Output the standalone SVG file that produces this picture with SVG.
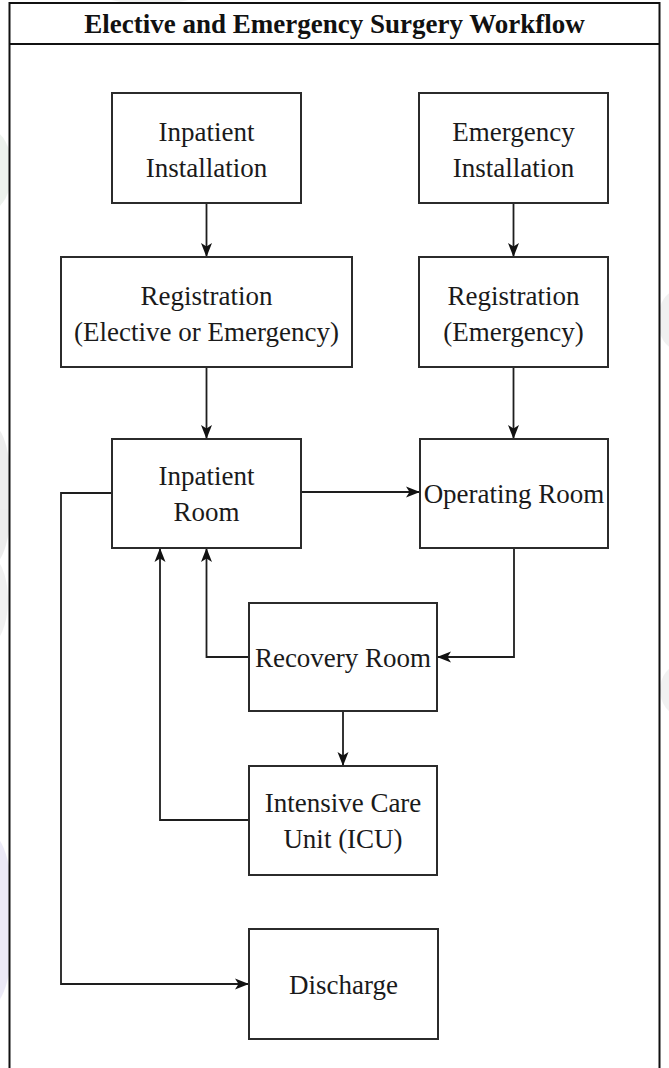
<svg xmlns="http://www.w3.org/2000/svg" width="669" height="1068" viewBox="0 0 669 1068">
  <style>
    .node rect { fill: #ffffff; stroke: #2b2b2b; stroke-width: 2; }
    .label { font-family: "Liberation Serif", "Times New Roman", serif; font-size: 27px; fill: #1a1a1a; text-anchor: middle; }
    .title { font-family: "Liberation Serif", "Times New Roman", serif; font-size: 27px; font-weight: bold; fill: #111111; text-anchor: middle; }
    .conn path { fill: none; stroke: #1e1e1e; stroke-width: 1.8; }
    .frame { fill: #ffffff; stroke: #111111; stroke-width: 2; }
    .wm { opacity: 0.55; }
  </style>
  <defs>
    <marker id="arrow" viewBox="0 0 14 14" refX="13" refY="7" markerWidth="14" markerHeight="14" markerUnits="userSpaceOnUse" orient="auto">
      <path d="M0,1.5 L14,7 L0,12.5 L3.5,7 z" fill="#111111"/>
    </marker>
  </defs>
  <rect x="0" y="0" width="669" height="1068" fill="#ffffff"/>
  <g id="watermark" class="wm">
    <ellipse cx="150" cy="-20" rx="70" ry="24" fill="#e4e6e4"/>
    <ellipse cx="-10" cy="170" rx="22" ry="40" fill="#dfe8df"/>
    <ellipse cx="-8" cy="495" rx="20" ry="70" fill="#dedede"/>
    <ellipse cx="-12" cy="600" rx="20" ry="45" fill="#e6e6e6"/>
    <ellipse cx="-8" cy="920" rx="22" ry="85" fill="#dcd8f0"/>
    <ellipse cx="678" cy="320" rx="20" ry="30" fill="#e4e4e4"/>
    <ellipse cx="680" cy="690" rx="20" ry="25" fill="#e6e6e6"/>
  </g>
  <g id="frame">
    <rect class="frame" x="9.5" y="3" width="650" height="1075"/>
    <line x1="9.5" y1="44" x2="659.5" y2="44" stroke="#111111" stroke-width="2"/>
    <text class="title" x="334.5" y="33">Elective and Emergency Surgery Workflow</text>
  </g>
  <g id="connectors" class="conn">
    <path d="M206.5,203 L206.5,256" marker-end="url(#arrow)"/>
    <path d="M513.5,203 L513.5,256" marker-end="url(#arrow)"/>
    <path d="M206.5,367 L206.5,438" marker-end="url(#arrow)"/>
    <path d="M513.5,367 L513.5,438" marker-end="url(#arrow)"/>
    <path d="M301,492 L419,492" marker-end="url(#arrow)"/>
    <path d="M514,548 L514,657 L438,657" marker-end="url(#arrow)"/>
    <path d="M249,657 L206.5,657 L206.5,549" marker-end="url(#arrow)"/>
    <path d="M343,711 L343,765" marker-end="url(#arrow)"/>
    <path d="M249,820 L160,820 L160,549" marker-end="url(#arrow)"/>
    <path d="M112,493 L61,493 L61,984 L248,984" marker-end="url(#arrow)"/>
  </g>
  <g id="inpatient-installation" class="node">
    <rect x="112" y="93" width="189" height="110"/>
    <text class="label" x="206.5" y="141">Inpatient</text>
    <text class="label" x="206.5" y="177">Installation</text>
  </g>
  <g id="emergency-installation" class="node">
    <rect x="419" y="93" width="189" height="110"/>
    <text class="label" x="513.5" y="141">Emergency</text>
    <text class="label" x="513.5" y="177">Installation</text>
  </g>
  <g id="registration-elective" class="node">
    <rect x="61" y="257" width="291" height="110"/>
    <text class="label" x="206.5" y="305">Registration</text>
    <text class="label" x="206.5" y="341">(Elective or Emergency)</text>
  </g>
  <g id="registration-emergency" class="node">
    <rect x="419" y="257" width="189" height="110"/>
    <text class="label" x="513.5" y="305">Registration</text>
    <text class="label" x="513.5" y="341">(Emergency)</text>
  </g>
  <g id="inpatient-room" class="node">
    <rect x="112" y="439" width="189" height="109"/>
    <text class="label" x="206.5" y="485">Inpatient</text>
    <text class="label" x="206.5" y="521">Room</text>
  </g>
  <g id="operating-room" class="node">
    <rect x="420" y="439" width="188" height="109"/>
    <text class="label" x="514" y="503">Operating Room</text>
  </g>
  <g id="recovery-room" class="node">
    <rect x="249" y="603" width="188" height="108"/>
    <text class="label" x="343" y="667">Recovery Room</text>
  </g>
  <g id="icu" class="node">
    <rect x="249" y="766" width="188" height="109"/>
    <text class="label" x="343" y="812">Intensive Care</text>
    <text class="label" x="343" y="848">Unit (ICU)</text>
  </g>
  <g id="discharge" class="node">
    <rect x="249" y="929" width="189" height="110"/>
    <text class="label" x="343.5" y="994">Discharge</text>
  </g>
</svg>
